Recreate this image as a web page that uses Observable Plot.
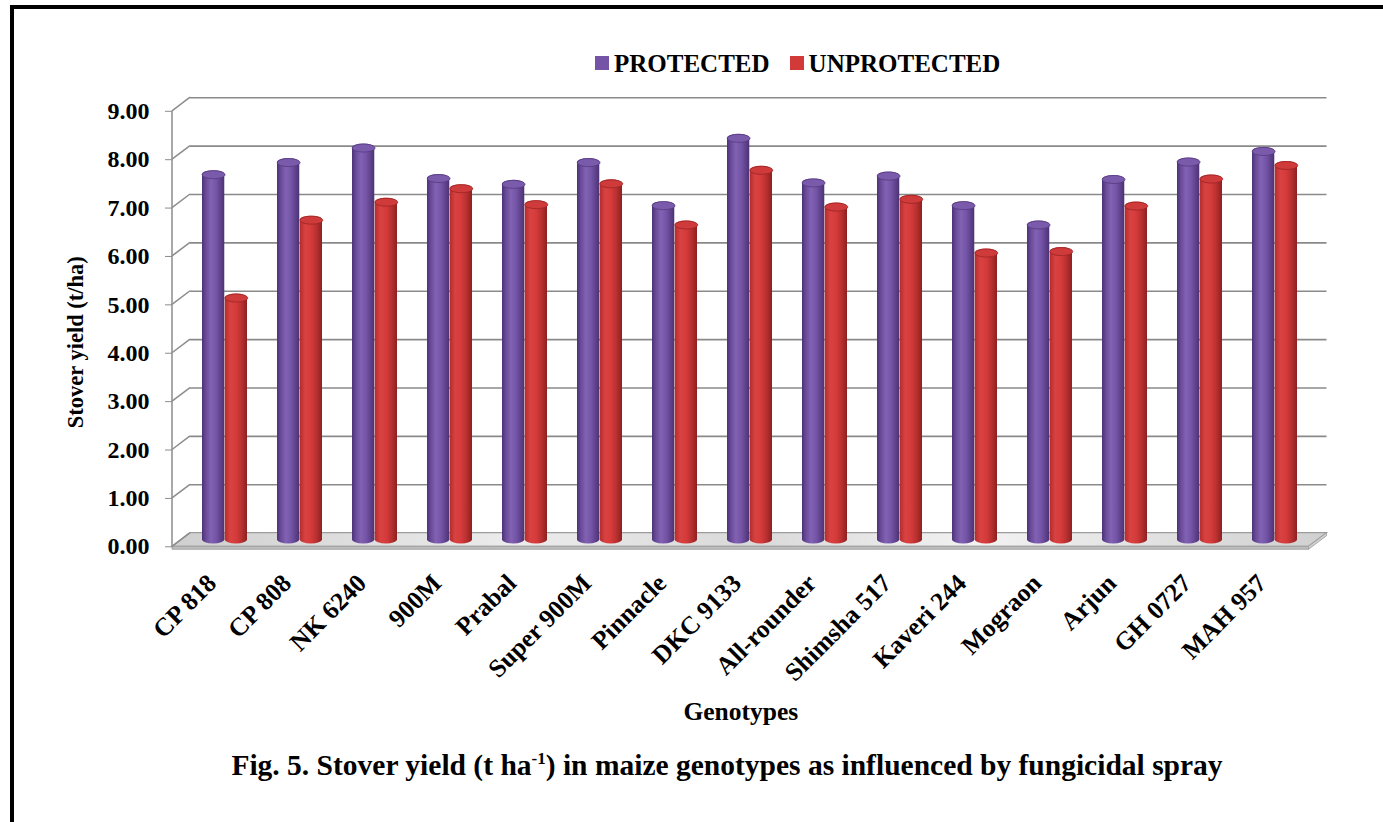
<!DOCTYPE html>
<html>
<head>
<meta charset="utf-8">
<script src="https://cdn.jsdelivr.net/npm/d3@7"></script>
<script src="https://cdn.jsdelivr.net/npm/@observablehq/plot@0.6"></script>
<style>
html,body{margin:0;padding:0;background:#fff;width:1383px;height:822px;overflow:hidden;font-family:"Liberation Serif","Times New Roman",serif;}
#frame{position:absolute;left:10px;top:5px;width:1500px;height:900px;border-left:4px solid #000;border-top:4px solid #000;}
#legend{position:absolute;left:595px;top:50px;height:26px;display:flex;align-items:center;font-weight:bold;font-size:25px;line-height:25px;color:#000;white-space:nowrap;}
#legend .sw{display:inline-block;width:14px;height:14px;margin-right:5px;}
#chart{position:absolute;left:0;top:80px;}
#caption{position:absolute;left:0;width:1454px;top:749px;text-align:center;font-weight:bold;font-size:29.5px;color:#000;white-space:nowrap;}
#caption sup{font-size:17px;}
</style>
</head>
<body>
<div id="frame"></div>
<div id="legend"><span class="sw" style="background:#7553a6"></span><span>PROTECTED</span><span class="sw" style="background:#d23939;margin-left:20px"></span><span>UNPROTECTED</span></div>
<div id="chart"></div>
<div id="caption">Fig. 5. Stover yield (t ha<sup>-1</sup>) in maize genotypes as influenced by fungicidal spray</div>
<script>
// ---- data ----
const genotypes = ["CP 818","CP 808","NK 6240","900M","Prabal","Super 900M","Pinnacle","DKC 9133","All-rounder","Shimsha 517","Kaveri 244","Mograon","Arjun","GH 0727","MAH 957"];
const protectedYield = [7.55,7.80,8.10,7.47,7.35,7.80,6.91,8.30,7.38,7.52,6.91,6.51,7.45,7.81,8.03];
const unprotectedYield = [5.00,6.61,6.98,7.26,6.93,7.36,6.51,7.64,6.88,7.04,5.93,5.96,6.90,7.46,7.74];
const yTicks = [0,1,2,3,4,5,6,7,8,9];
const seriesNames = ["PROTECTED","UNPROTECTED"];

const protData = genotypes.map((g,i)=>({genotype:g, series:seriesNames[0], value:protectedYield[i]}));
const unprotData = genotypes.map((g,i)=>({genotype:g, series:seriesNames[1], value:unprotectedYield[i]}));

// ---- layout ----
const W = 1383, H = 660;
const mL = 181, mR = 65.5, mT = 24, mB = 200.5;
const pInner = 0.4, pOuter = 0.2;
const step = (W - mL - mR) / (genotypes.length - pInner + 2*pOuter);
const bw = step * (1 - pInner);
const half = bw / 2;
const DX = 9, DY = 6.8;   // 3D depth offset
const RY = 4;

function ellipseSymbol(rx, ry){
  const k = 0.5523;
  return {draw(ctx){
    ctx.moveTo(rx,0);
    ctx.bezierCurveTo(rx, ry*k, rx*k, ry, 0, ry);
    ctx.bezierCurveTo(-rx*k, ry, -rx, ry*k, -rx, 0);
    ctx.bezierCurveTo(-rx, -ry*k, -rx*k, -ry, 0, -ry);
    ctx.bezierCurveTo(rx*k, -ry, rx, -ry*k, rx, 0);
    ctx.closePath();
  }};
}

function defsMark(){
  const g = d3.create("svg:g");
  const defs = g.append("defs");
  function grad(id, stops){
    const lg = defs.append("linearGradient").attr("id", id).attr("x1","0").attr("x2","1").attr("y1","0").attr("y2","0");
    stops.forEach(([o,c])=>lg.append("stop").attr("offset",o).attr("stop-color",c));
  }
  grad("gradP", [["0%","#4b3276"],["18%","#6a4c9a"],["40%","#8262b3"],["65%","#7353a5"],["100%","#4c3274"]]);
  grad("gradU", [["0%","#b32c2c"],["25%","#d94242"],["50%","#d63b3b"],["75%","#b83030"],["100%","#8e2020"]]);
  const fl = defs.append("linearGradient").attr("id","floorG").attr("x1","0").attr("x2","1").attr("y1","0").attr("y2","0");
  [["0%","#cfcfcf"],["30%","#ececec"],["50%","#d9d9d9"],["70%","#f2f2f2"],["100%","#d0d0d0"]].forEach(([o,c])=>fl.append("stop").attr("offset",o).attr("stop-color",c));
  return g.node();
}

function decor(index, scales, values, dims){
  const y = scales.y;
  const x0 = dims.marginLeft, x1 = dims.width - dims.marginRight;
  const y0 = y(0);
  const g = d3.create("svg:g");
  // floor slab
  g.append("path")
    .attr("d", `M${x0+DX},${y0-DY}L${x1+DX},${y0-DY}L${x1-DX},${y0+DY}L${x0-DX},${y0+DY}Z`)
    .attr("fill","url(#floorG)").attr("stroke","#9c9c9c").attr("stroke-width",1.2);
  g.append("path")
    .attr("d", `M${x0-DX},${y0+DY}L${x1-DX},${y0+DY}L${x1-DX},${y0+DY+3}L${x0-DX},${y0+DY+3}Z`)
    .attr("fill","#bdbdbd").attr("stroke","#9c9c9c").attr("stroke-width",0.8);
  g.append("path")
    .attr("d", `M${x1-DX},${y0+DY}L${x1+DX},${y0-DY}L${x1+DX},${y0-DY+3}L${x1-DX},${y0+DY+3}Z`)
    .attr("fill","#cfcfcf").attr("stroke","#9c9c9c").attr("stroke-width",0.8);
  // connectors from front axis to back wall
  yTicks.forEach(t=>{
    g.append("line")
      .attr("x1", x0-DX).attr("y1", y(t)+DY)
      .attr("x2", x0+DX).attr("y2", y(t)-DY)
      .attr("stroke","#8c8c8c").attr("stroke-width",1.5);
  });
  // front vertical axis
  g.append("line")
    .attr("x1", x0-DX).attr("y1", y(yTicks[yTicks.length-1])+DY)
    .attr("x2", x0-DX).attr("y2", y0+DY)
    .attr("stroke","#8c8c8c").attr("stroke-width",1.5);
  return g.node();
}

const chart = Plot.plot({
  width: W, height: H,
  marginLeft: mL, marginRight: mR, marginTop: mT, marginBottom: mB,
  style: {fontFamily: '"Liberation Serif","Times New Roman",serif', fontWeight: "bold", background: "transparent", color: "#000", overflow: "visible"},
  x: {domain: genotypes, paddingInner: pInner, paddingOuter: pOuter, label: null},
  y: {domain: [0, 9], label: null},
  marks: [
    defsMark,
    Plot.ruleY(yTicks, {dx: DX, dy: -DY, stroke: "#8a8a8a", strokeWidth: 1.6}),
    decor,
    Plot.axisY({ticks: yTicks, tickFormat: d => d.toFixed(2), dx: -DX, dy: DY, tickSize: 7, tickPadding: 16, fontSize: 24, stroke: "#8c8c8c", label: null}),
    Plot.axisX({tickRotate: -45, tickSize: 0, tickPadding: 39, dx: -13, fontSize: 25.5, label: null}),
    // cylinder bodies
    Plot.barY(protData, {x: "genotype", y: "value", fill: "url(#gradP)", insetRight: half, insetTop: -RY, insetBottom: -RY, rx: half/2, ry: RY}),
    Plot.barY(unprotData, {x: "genotype", y: "value", fill: "url(#gradU)", insetLeft: half, insetTop: -RY, insetBottom: -RY, rx: half/2, ry: RY}),
    // cylinder caps
    Plot.dot(protData, {x: "genotype", y: "value", dx: -half/2, r: 5, symbol: ellipseSymbol(half/2, RY), fill: "#7a5bab", stroke: "#55397f", strokeWidth: 0.8}),
    Plot.dot(unprotData, {x: "genotype", y: "value", dx: half/2, r: 5, symbol: ellipseSymbol(half/2, RY), fill: "#cf3a3a", stroke: "#9a2424", strokeWidth: 0.8}),
    // axis titles
    Plot.text(["Genotypes"], {frameAnchor: "bottom", text: d => d, dy: 180, dx: -9, fontSize: 25.5, fill: "#000"}),
    Plot.text(["Stover yield (t/ha)"], {frameAnchor: "left", textAnchor: "middle", text: d => d, rotate: -90, dx: -106, dy: 20, fontSize: 22.5, fill: "#000"})
  ]
});
document.getElementById("chart").appendChild(chart);
</script>
</body>
</html>
